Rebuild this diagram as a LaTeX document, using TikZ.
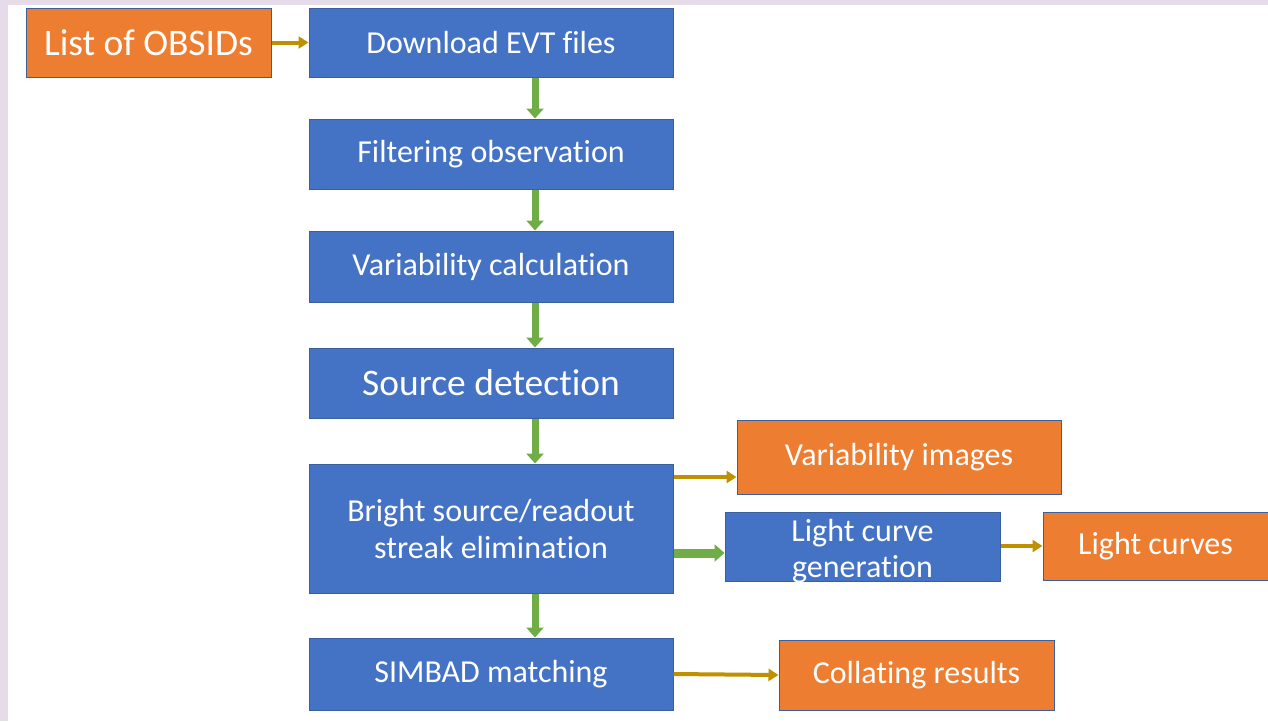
\documentclass[tikz,border=0pt]{standalone}
\usepackage{fontspec}
\setmainfont{Carlito}[Ligatures={CommonOff}]
\usetikzlibrary{arrows.meta}
\definecolor{bboxc}{HTML}{4472C4}
\definecolor{oboxc}{HTML}{ED7D31}
\definecolor{edgec}{HTML}{3A5F9E}
\definecolor{greenc}{HTML}{70AD47}
\definecolor{goldc}{HTML}{BF9000}
\definecolor{lavc}{HTML}{E6DCE9}
\begin{document}
\begin{tikzpicture}[x=1pt,y=-1pt,
  boxbase/.style={draw=edgec,line width=1pt,text=white,inner sep=0pt,align=center,
    font=\fontsize{32}{37}\selectfont},
  bluebox/.style={boxbase,fill=bboxc},
  orangebox/.style={boxbase,fill=oboxc},
  bigtext/.style={font=\fontsize{37.5}{40}\selectfont},
  garrow/.style={draw=greenc,line width=7pt,-{Triangle[width=17pt,length=10pt]}},
  goldarrow/.style={draw=goldc,line width=4pt,-{Triangle[width=12pt,length=10pt]}}]
\useasboundingbox (0,0) rectangle (1268,721);
\fill[lavc] (0,0) rectangle (1268,721);
\fill[white] (8,5) rectangle (1268,721);
\node[orangebox,bigtext,minimum width=245pt,minimum height=69pt] (list) at (148.5,42.5) {List of OBSIDs};
\node[bluebox,minimum width=364pt,minimum height=69pt] (dl) at (491,42.5) {Download EVT files};
\node[bluebox,minimum width=364pt,minimum height=70pt] (filt) at (491,154) {Filtering observation};
\node[bluebox,minimum width=364pt,minimum height=71pt] (var) at (491,266.5) {Variability calculation};
\node[bluebox,bigtext,minimum width=364pt,minimum height=70pt] (src) at (491,383) {Source detection};
\node[bluebox,minimum width=364pt,minimum height=129pt] (bright) at (491,528.5) {Bright source/readout\\streak elimination};
\node[bluebox,minimum width=364pt,minimum height=72pt] (simbad) at (491,674) {SIMBAD matching};
\node[orangebox,minimum width=324pt,minimum height=74pt] (vimg) at (899,457) {Variability images};
\node[bluebox,minimum width=275pt,minimum height=69pt] (lcg) at (862.5,546.5) {\raisebox{-12pt}[0pt][0pt]{\begin{tabular}{@{}c@{}}Light curve\\[-1pt]generation\end{tabular}}};
\node[orangebox,minimum width=225pt,minimum height=68pt] (lc) at (1155.5,546) {Light curves};
\node[orangebox,minimum width=275pt,minimum height=70pt] (coll) at (916.5,675) {Collating results};
\coordinate (ax) at (535,0);
\draw[garrow] (dl.south -| ax) -- (filt.north -| ax);
\draw[garrow] (filt.south -| ax) -- (var.north -| ax);
\draw[garrow] (var.south -| ax) -- (src.north -| ax);
\draw[garrow] (src.south -| ax) -- (bright.north -| ax);
\draw[garrow] (bright.south -| ax) -- (simbad.north -| ax);
\coordinate (y1) at (0,477);
\coordinate (y2) at (0,553);
\coordinate (y3) at (0,546);
\draw[goldarrow] (list.east) -- (dl.west);
\draw[goldarrow] (bright.east |- y1) -- (vimg.west |- y1);
\draw[garrow,line width=9pt] (bright.east |- y2) -- (lcg.west |- y2);
\draw[goldarrow] (lcg.east |- y3) -- (lc.west |- y3);
\draw[goldarrow] (simbad.east) -- (coll.west);
\end{tikzpicture}
\end{document}
